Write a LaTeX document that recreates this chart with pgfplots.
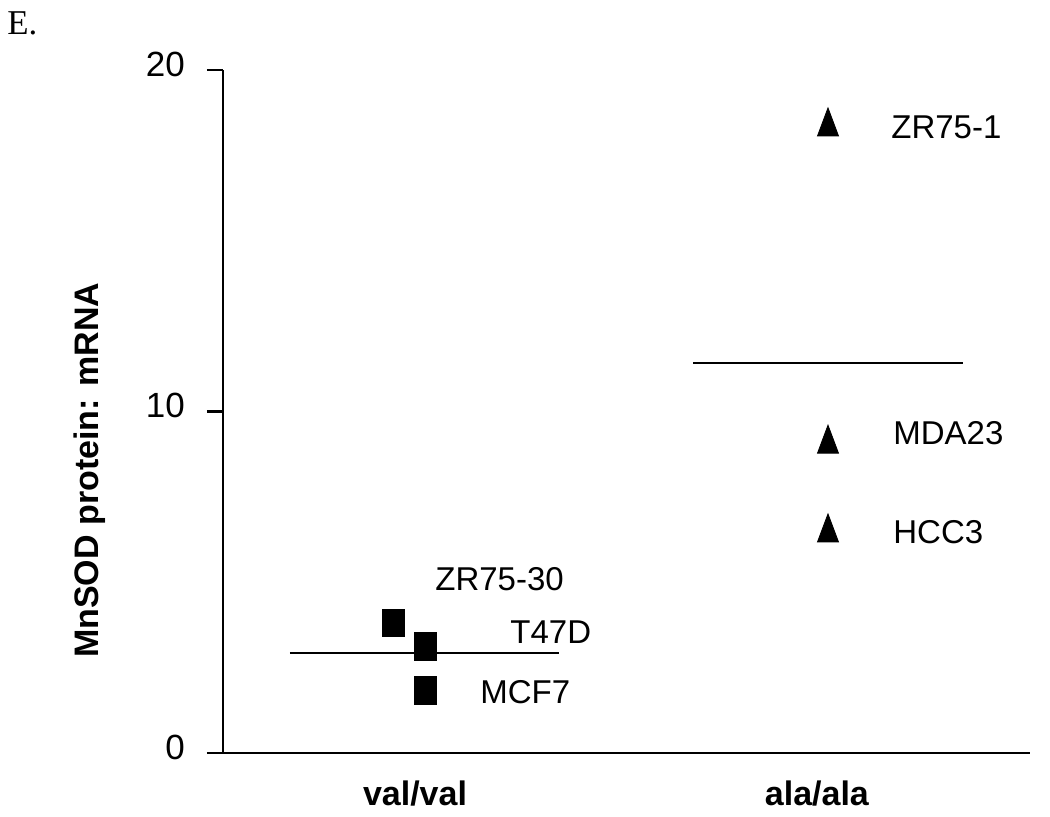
\documentclass[border=0pt]{standalone}
\usepackage{fontspec}
\setmainfont{Liberation Sans}
\newfontfamily\timesfont{Liberation Serif}
\usepackage{pgfplots}
\pgfplotsset{compat=1.18}
\begin{document}
\begin{tikzpicture}[font=\fontsize{16.5pt}{19pt}\selectfont]
\path[use as bounding box] (-111.5pt,-31.5pt) rectangle (413.5pt,376.5pt);
\begin{axis}[
  at={(0,0)}, anchor=south west,
  scale only axis, width=403.5pt, height=341.5pt,
  xmin=223, xmax=1030, ymin=0, ymax=20,
  clip=false,
  axis x line=bottom, axis y line=left,
  axis line style={line width=1.4pt, -},
  xtick={415,817},
  xticklabels={\textbf{val/val},\textbf{ala/ala}},
  x tick style={draw=none},
  ytick={0,10,20},
  y tick style={line width=1.4pt, black},
  tick align=outside, major tick length=8pt,
  /pgf/number format/assume math mode=true,
  yticklabel style={xshift=-7.5pt, yshift=3pt, font=\fontsize{17.5pt}{20pt}\selectfont},
  xticklabel style={yshift=-2.5pt, font=\fontsize{17pt}{20pt}\selectfont\bfseries},
  ylabel={MnSOD protein: mRNA},
  ylabel style={at={(axis description cs:-0.165,0.414)}, anchor=center, font=\fontsize{17pt}{20pt}\selectfont\bfseries},
]
\addplot[only marks, color=black, mark=square*, mark size=5.5pt, mark options={yscale=1.27, fill=black}]
  coordinates {(393,3.81) (425,3.13) (425,1.82)};
\addplot[only marks, color=black, mark=triangle*, mark size=6.06pt, mark options={yshift=-2.33pt, yscale=1.54, fill=black}]
  coordinates {(828,18.48) (828,9.19) (828,6.59)};
\addplot[black, line width=1.4pt, no marks] coordinates {(290,2.93) (559,2.93)};
\addplot[black, line width=1.4pt, no marks] coordinates {(693,11.42) (963,11.42)};
\node[anchor=west, inner sep=0] at (axis cs:435,5.10) {ZR75-30};
\node[anchor=west, inner sep=0] at (axis cs:510,3.54) {T47D};
\node[anchor=west, inner sep=0] at (axis cs:480,1.79) {MCF7};
\node[anchor=west, inner sep=0] at (axis cs:891,18.33) {ZR75-1};
\node[anchor=west, inner sep=0] at (axis cs:893,9.37) {MDA23};
\node[anchor=west, inner sep=0] at (axis cs:893,6.47) {HCC3};
\end{axis}
\node[font=\timesfont\fontsize{17.4pt}{20pt}\selectfont, anchor=base west, inner sep=0] at (-108pt,359pt) {E.};
\end{tikzpicture}
\end{document}
